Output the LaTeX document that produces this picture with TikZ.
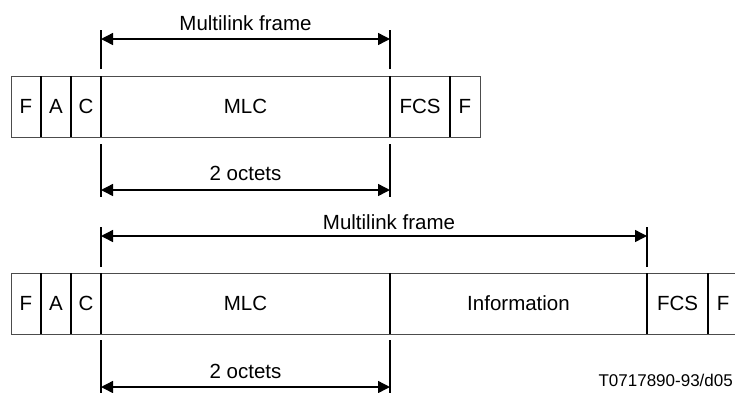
\documentclass[tikz,border=0pt]{standalone}
\usepackage{fontspec}
\setmainfont{Liberation Sans}
\usetikzlibrary{arrows.meta}
\usetikzlibrary{positioning}
\usetikzlibrary{calc}

\begin{document}
\begin{tikzpicture}[
    x=1pt, y=-1pt,
    >={Triangle[length=12pt,width=12pt]},
    field/.style={minimum height=61pt, inner sep=0pt, outer sep=0pt, font=\fontsize{20.5}{24}\selectfont},
    outline/.style={draw=black!70, line width=0.8pt},
    divider/.style={line width=1.4pt},
    dim line/.style={<->, line width=1.4pt},
    dimtext/.style={inner sep=0pt, font=\fontsize{20.5}{24}\selectfont}
    ]
    \useasboundingbox (0,0) rectangle (735,392);

    % upper frame
    \node[field, minimum width=30pt, anchor=north west] (F1) at (11,76) {F};
    \node[field, minimum width=30pt, right=0pt of F1] (A1) {A};
    \node[field, minimum width=30pt, right=0pt of A1] (C1) {C};
    \node[field, minimum width=289pt, right=0pt of C1] (MLC1) {MLC};
    \node[field, minimum width=60pt, right=0pt of MLC1] (FCS1) {FCS};
    \node[field, minimum width=30pt, right=0pt of FCS1] (G1) {F};
    \draw[outline] (F1.north west) rectangle (G1.south east);
    \foreach \n in {F1, A1, C1, MLC1, FCS1}
        \draw[divider] (\n.north east) -- (\n.south east);

    % lower frame
    \node[field, minimum width=30pt, anchor=north west] (F2) at (11,273) {F};
    \node[field, minimum width=30pt, right=0pt of F2] (A2) {A};
    \node[field, minimum width=30pt, right=0pt of A2] (C2) {C};
    \node[field, minimum width=289pt, right=0pt of C2] (MLC2) {MLC};
    \node[field, minimum width=257pt, right=0pt of MLC2] (Info2) {Information};
    \node[field, minimum width=61pt, right=0pt of Info2] (FCS2) {FCS};
    \node[field, minimum width=30pt, right=0pt of FCS2] (G2) {F};
    \draw[outline] (F2.north west) rectangle (G2.south east);
    \foreach \n in {F2, A2, C2, MLC2, Info2, FCS2}
        \draw[divider] (\n.north east) -- (\n.south east);

    % dimensions, upper frame
    \foreach \n in {C1, MLC1} {
        \draw[divider] ($(\n.north east)+(0,-7)$) -- ($(\n.north east)+(0,-46)$);
        \draw[divider] ($(\n.south east)+(0,7)$) -- ($(\n.south east)+(0,60)$);
    }
    \draw[dim line] ($(C1.north east)+(0,-37)$) -- ($(MLC1.north east)+(0,-37)$)
        node[midway, dimtext, above=8pt] {Multilink frame};
    \draw[dim line] ($(C1.south east)+(0,53)$) -- ($(MLC1.south east)+(0,53)$)
        node[midway, dimtext, above=9pt] {2 octets};

    % dimensions, lower frame
    \foreach \n in {C2, Info2}
        \draw[divider] ($(\n.north east)+(0,-6)$) -- ($(\n.north east)+(0,-46)$);
    \foreach \n in {C2, MLC2}
        \draw[divider] ($(\n.south east)+(0,6)$) -- ($(\n.south east)+(0,60)$);
    \draw[dim line] ($(C2.north east)+(0,-37)$) -- ($(Info2.north east)+(0,-37)$);
    \node[dimtext, above=6pt] (mlf2) at ($(MLC2.north east)+(-1,-37)$) {Multilink frame};
    \draw[dim line] ($(C2.south east)+(0,53)$) -- ($(MLC2.south east)+(0,53)$)
        node[midway, dimtext, above=7.5pt] {2 octets};

    \node[dimtext, font=\fontsize{17}{20}\selectfont, anchor=east] (code) at (733,380) {T0717890-93/d05};
\end{tikzpicture}
\end{document}
